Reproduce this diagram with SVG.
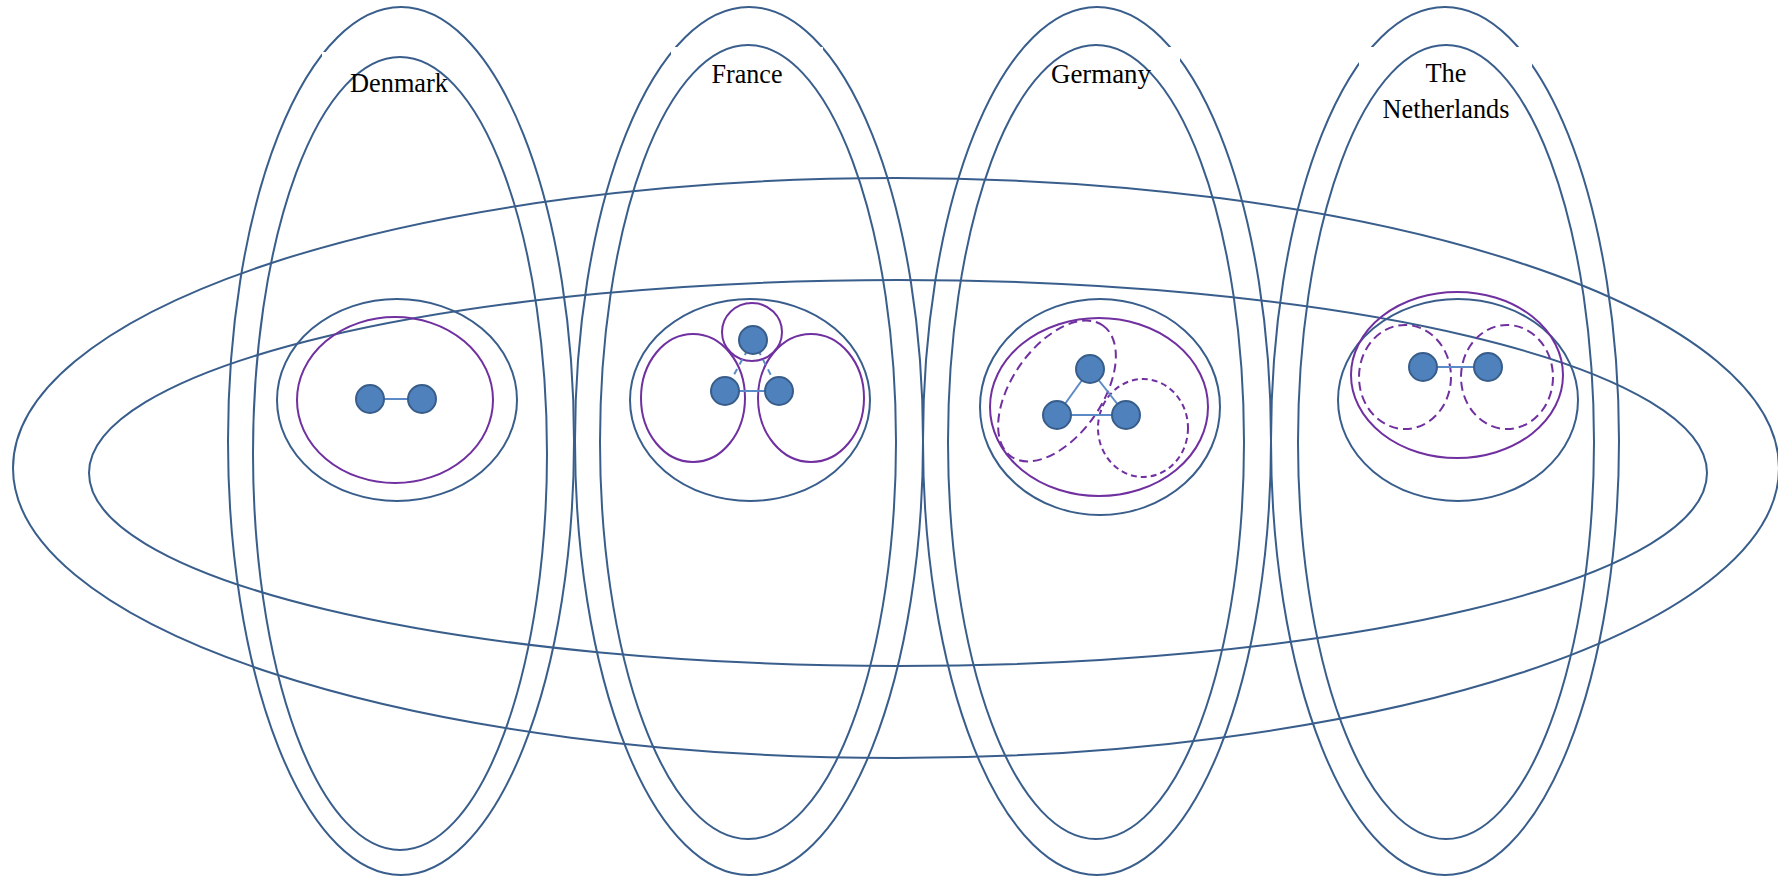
<svg xmlns="http://www.w3.org/2000/svg" width="1778" height="878" viewBox="0 0 1778 878">
<style>
.b{fill:none;stroke:#395e8c;stroke-width:2}
.p{fill:none;stroke:#7030a0;stroke-width:2}
.pd{fill:none;stroke:#7030a0;stroke-width:2;stroke-dasharray:9 5}
.pd2{fill:none;stroke:#7030a0;stroke-width:2;stroke-dasharray:6 4}
.n{fill:#4f81bd;stroke:#385d8a;stroke-width:2}
.e{stroke:#5b8ac6;stroke-width:2;fill:none}
.ed{stroke:#5b8ac6;stroke-width:2;fill:none;stroke-dasharray:6 5}
.t{font-family:"Liberation Serif","Times New Roman",serif;font-size:28px;fill:#000;text-anchor:middle}
.bg{fill:#fff}
</style>
<rect width="1778" height="878" fill="#fff"/>
<g id="country-outer">
<ellipse class="b" cx="401" cy="441" rx="173" ry="434"/>
<ellipse class="b" cx="749" cy="441" rx="174" ry="434"/>
<ellipse class="b" cx="1097" cy="441" rx="174" ry="434"/>
<ellipse class="b" cx="1445" cy="441" rx="174" ry="434"/>
</g>
<g id="label-backgrounds">
<rect class="bg" x="322" y="52" width="138" height="48"/>
<rect class="bg" x="671" y="47" width="152" height="43"/>
<rect class="bg" x="1040" y="47" width="140" height="48"/>
<rect class="bg" x="1359" y="47" width="173" height="78"/>
</g>
<g id="country-inner">
<ellipse class="b" cx="400" cy="453.5" rx="147" ry="396.5"/>
<ellipse class="b" cx="748" cy="442" rx="148" ry="397"/>
<ellipse class="b" cx="1096" cy="442" rx="148" ry="397"/>
<ellipse class="b" cx="1446" cy="442" rx="148" ry="397"/>
</g>
<g id="region-ellipses">
<ellipse class="b" cx="896" cy="468" rx="883" ry="290"/>
<ellipse class="b" cx="898" cy="473" rx="809" ry="193"/>
</g>
<g id="cluster-denmark">
<ellipse class="b" cx="397" cy="400" rx="120" ry="101"/>
<ellipse class="p" cx="395" cy="400" rx="98" ry="83"/>
</g>
<g id="cluster-france">
<ellipse class="b" cx="750" cy="400" rx="120" ry="101"/>
<ellipse class="p" cx="752" cy="332" rx="30" ry="29"/>
<ellipse class="p" cx="693" cy="398" rx="52" ry="64"/>
<ellipse class="p" cx="811" cy="398" rx="53" ry="64"/>
</g>
<g id="cluster-germany">
<ellipse class="b" cx="1100" cy="407" rx="120" ry="108"/>
<ellipse class="p" cx="1099" cy="407" rx="109" ry="89"/>
<ellipse class="pd" cx="1057" cy="391" rx="80" ry="45" transform="rotate(-55 1057 391)"/>
<ellipse class="pd2" cx="1143" cy="428" rx="45" ry="49"/>
</g>
<g id="cluster-netherlands">
<ellipse class="b" cx="1458" cy="400" rx="120" ry="101"/>
<ellipse class="p" cx="1457" cy="375" rx="106" ry="83"/>
<ellipse class="pd" cx="1405" cy="377" rx="46" ry="52"/>
<ellipse class="pd" cx="1507" cy="377" rx="46" ry="52"/>
</g>
<g id="connectors">
<line class="e" x1="370" y1="399" x2="422" y2="399"/>
<line class="e" x1="725" y1="391" x2="779" y2="391"/>
<line class="ed" x1="753" y1="340" x2="725" y2="391"/>
<line class="ed" x1="753" y1="340" x2="779" y2="391"/>
<line class="e" x1="1090" y1="369" x2="1057" y2="415"/>
<line class="e" x1="1090" y1="369" x2="1126" y2="415"/>
<line class="e" x1="1057" y1="415" x2="1126" y2="415"/>
<line class="e" x1="1423" y1="367" x2="1488" y2="367"/>
</g>
<g id="node-dk1"><circle class="n" cx="370" cy="399" r="14"/></g>
<g id="node-dk2"><circle class="n" cx="422" cy="399" r="14"/></g>
<g id="node-fr1"><circle class="n" cx="753" cy="340" r="14"/></g>
<g id="node-fr2"><circle class="n" cx="725" cy="391" r="14"/></g>
<g id="node-fr3"><circle class="n" cx="779" cy="391" r="14"/></g>
<g id="node-de1"><circle class="n" cx="1090" cy="369" r="14"/></g>
<g id="node-de2"><circle class="n" cx="1057" cy="415" r="14"/></g>
<g id="node-de3"><circle class="n" cx="1126" cy="415" r="14"/></g>
<g id="node-nl1"><circle class="n" cx="1423" cy="367" r="14"/></g>
<g id="node-nl2"><circle class="n" cx="1488" cy="367" r="14"/></g>
<g id="labels">
<text class="t" x="399" y="92" textLength="98" lengthAdjust="spacingAndGlyphs">Denmark</text>
<text class="t" x="747" y="83" textLength="71" lengthAdjust="spacingAndGlyphs">France</text>
<text class="t" x="1101" y="83" textLength="100" lengthAdjust="spacingAndGlyphs">Germany</text>
<text class="t" x="1446" y="82" textLength="41" lengthAdjust="spacingAndGlyphs">The</text>
<text class="t" x="1446" y="118" textLength="127" lengthAdjust="spacingAndGlyphs">Netherlands</text>
</g>
</svg>
